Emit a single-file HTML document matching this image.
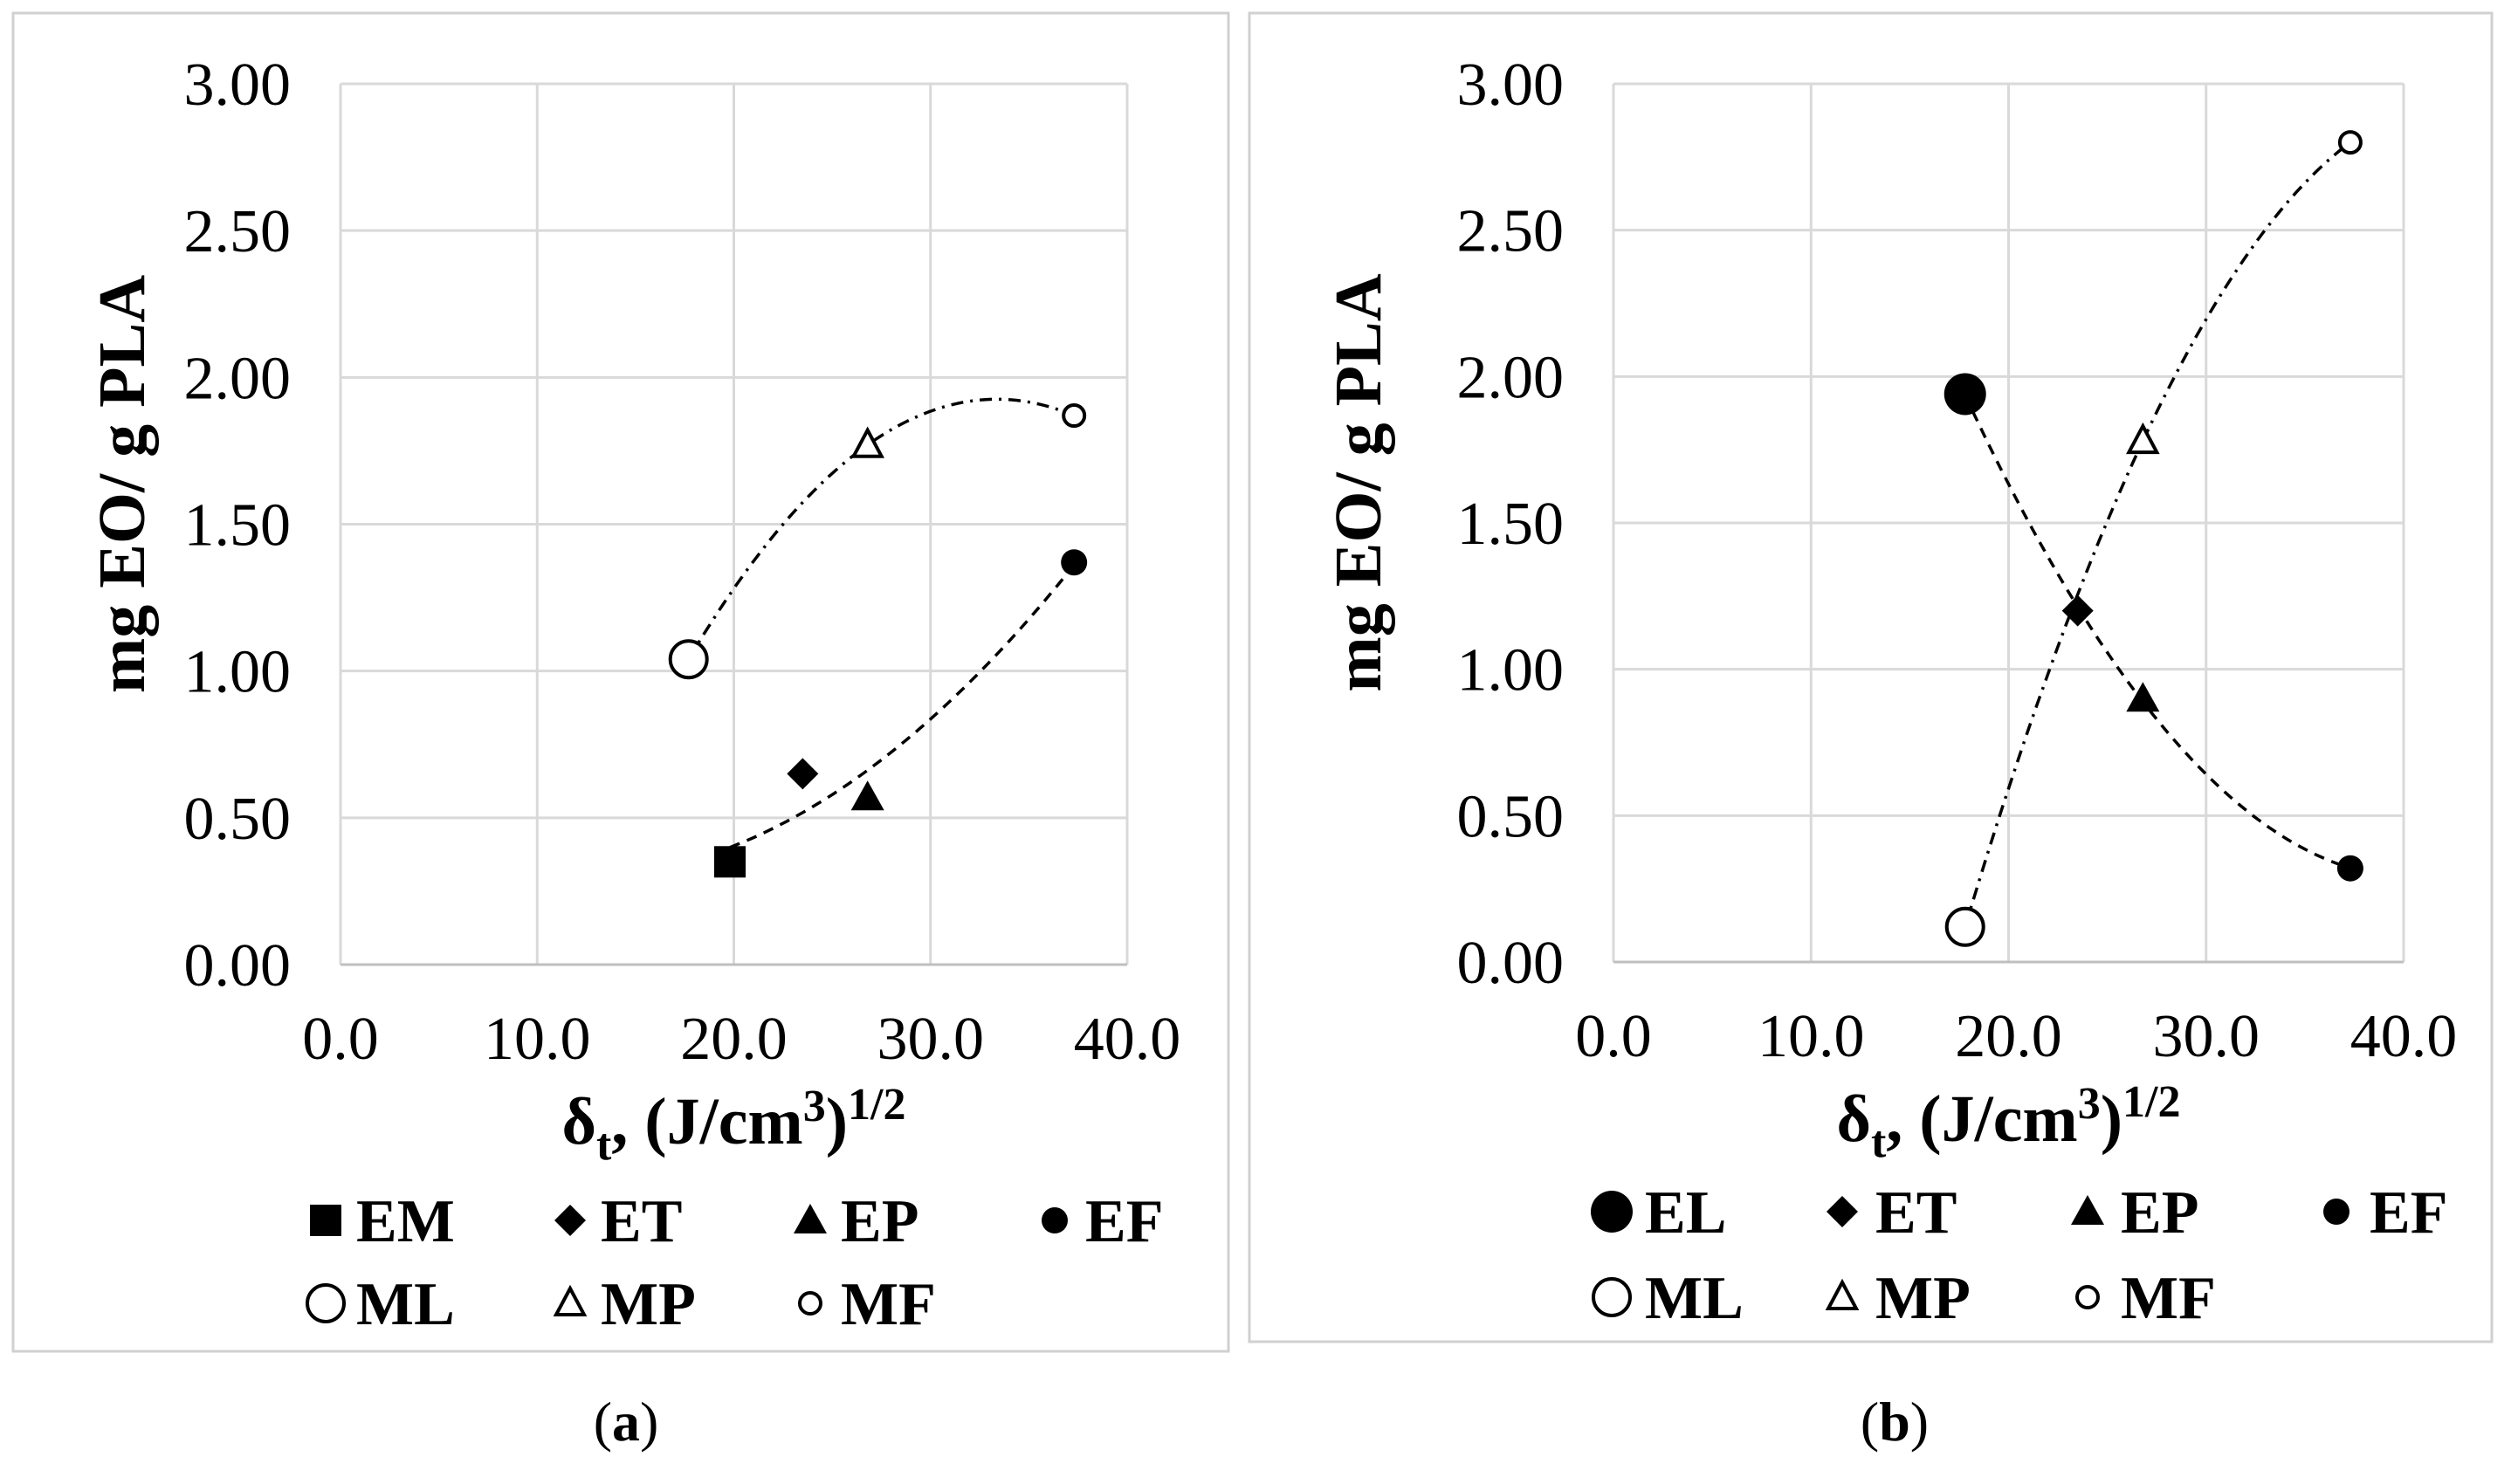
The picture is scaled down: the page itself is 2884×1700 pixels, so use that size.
<!DOCTYPE html>
<html><head><meta charset="utf-8"><style>
html,body{margin:0;padding:0;background:#fff}
svg{display:block}
text{font-family:"Liberation Serif",serif;fill:#000}
</style></head><body>
<svg id="s" width="2884" height="1700" viewBox="0 0 2884 1700" xmlns="http://www.w3.org/2000/svg"></svg>
<script>
const xTicks=[0,10,20,30,40];
const yTicks=[0,0.5,1,1.5,2,2.5,3];
// Panel (a)
const aE_names=["EM","ET","EP","EF"];
const aE_x=[19.8,23.5,26.8,37.3];
const aE_y=[0.35,0.65,0.57,1.37];
const aM_names=["ML","MP","MF"];
const aM_x=[17.7,26.8,37.3];
const aM_y=[1.04,1.77,1.87];
// Panel (b)
const bE_names=["EL","ET","EP","EF"];
const bE_x=[17.8,23.5,26.8,37.3];
const bE_y=[1.94,1.20,0.90,0.32];
const bM_names=["ML","MP","MF"];
const bM_x=[17.8,26.8,37.3];
const bM_y=[0.12,1.78,2.80];

const NS="http://www.w3.org/2000/svg";
const svg=document.getElementById('s');
function mk(tag,attrs,parent){const e=document.createElementNS(NS,tag);for(const k in attrs)e.setAttribute(k,attrs[k]);(parent||svg).appendChild(e);return e;}

function quadFit(xs,ys){
  let S=[[0,0,0],[0,0,0],[0,0,0]],b=[0,0,0];
  for(let i=0;i<xs.length;i++){const p=[1,xs[i],xs[i]*xs[i]];for(let r=0;r<3;r++){b[r]+=p[r]*ys[i];for(let c=0;c<3;c++)S[r][c]+=p[r]*p[c];}}
  for(let i=0;i<3;i++){let m=i;for(let r=i+1;r<3;r++)if(Math.abs(S[r][i])>Math.abs(S[m][i]))m=r;[S[i],S[m]]=[S[m],S[i]];[b[i],b[m]]=[b[m],b[i]];
    for(let r=0;r<3;r++){if(r===i)continue;const f=S[r][i]/S[i][i];for(let c=0;c<3;c++)S[r][c]-=f*S[i][c];b[r]-=f*b[i];}}
  return [b[0]/S[0][0],b[1]/S[1][1],b[2]/S[2][2]];
}

function marker(g,kind,cx,cy,name){
  let e;
  if(kind==="square")e=mk('rect',{x:cx-18,y:cy-18,width:36,height:36,fill:'#000'},g);
  else if(kind==="diamond")e=mk('polygon',{points:`${cx},${cy-18} ${cx+18},${cy} ${cx},${cy+18} ${cx-18},${cy}`,fill:'#000'},g);
  else if(kind==="tri")e=mk('polygon',{points:`${cx},${cy-19} ${cx+19},${cy+15} ${cx-19},${cy+15}`,fill:'#000'},g);
  else if(kind==="dot")e=mk('circle',{cx:cx,cy:cy,r:15,fill:'#000'},g);
  else if(kind==="bigdot")e=mk('circle',{cx:cx,cy:cy,r:24,fill:'#000'},g);
  else if(kind==="ocircle")e=mk('circle',{cx:cx,cy:cy,r:21,fill:'#fff',stroke:'#000','stroke-width':4},g);
  else if(kind==="otri")e=mk('polygon',{points:`${cx},${cy-17} ${cx+16},${cy+13} ${cx-16},${cy+13}`,fill:'#fff',stroke:'#000','stroke-width':4},g);
  else if(kind==="osmall")e=mk('circle',{cx:cx,cy:cy,r:12,fill:'#fff',stroke:'#000','stroke-width':4},g);
  
  
  return e;
}

function panel(P){
  const g=mk('g',{});
  
  
  mk('rect',{x:P.bx,y:P.by,width:P.bw,height:P.bh,fill:'none',stroke:'#d0d0d0','stroke-width':3},g);
  const X=v=>P.x0+(P.x1-P.x0)*v/40, Y=v=>P.y0+(P.y1-P.y0)*v/3;
  xTicks.forEach(t=>{const l=mk('line',{x1:X(t),x2:X(t),y1:Y(0),y2:Y(3),stroke:'#d9d9d9','stroke-width':3},g);
    
    const tx=mk('text',{x:X(t),y:Y(0)+108,'font-size':70,'text-anchor':'middle'},g);tx.textContent=t.toFixed(1);
    });
  yTicks.forEach(t=>{const l=mk('line',{x1:X(0),x2:X(40),y1:Y(t),y2:Y(t),stroke:t===0?'#bfbfbf':'#d9d9d9','stroke-width':3},g);
    
    const tx=mk('text',{x:X(0)-57,y:Y(t)+24,'font-size':70,'text-anchor':'end'},g);tx.textContent=t.toFixed(2);
    });
  const yt=mk('text',{x:0,y:0,'font-size':76,'font-weight':'bold','text-anchor':'middle',transform:`translate(${P.bx+150},${(Y(0)+Y(3))/2-46}) rotate(-90)`},g);
  yt.textContent='mg EO/ g PLA';
  const xt=mk('text',{x:(X(0)+X(40))/2,y:Y(0)+205,'font-size':76,'font-weight':'bold','text-anchor':'middle'},g);
  xt.innerHTML='δ<tspan font-size="52" dy="18">t</tspan><tspan dy="-18">, (J/cm</tspan><tspan font-size="52" dy="-26">3</tspan><tspan dy="26">)</tspan><tspan font-size="52" dy="-28">1/2</tspan>';
  
  [[P.ex,P.ey,'12,9','e-trendline'],[P.mx,P.my,'14,8,3,8','m-trendline']].forEach(([xs,ys,da,nm])=>{
    const c=quadFit(xs,ys);const lo=Math.min(...xs),hi=Math.max(...xs);let d='';
    for(let i=0;i<=80;i++){const v=lo+(hi-lo)*i/80;const yv=c[0]+c[1]*v+c[2]*v*v;d+=(i?'L':'M')+X(v).toFixed(1)+','+Y(yv).toFixed(1);}
    const p=mk('path',{d:d,fill:'none',stroke:'#000','stroke-width':3.5,'stroke-dasharray':da},g);
    });
  P.en.forEach((n,i)=>marker(g,P.ek[i],X(P.ex[i]),Y(P.ey[i]),'point-'+n));
  P.mn.forEach((n,i)=>marker(g,P.mk[i],X(P.mx[i]),Y(P.my[i]),'point-'+n));
  const items=P.en.map((n,i)=>[n,P.ek[i]]).concat(P.mn.map((n,i)=>[n,P.mk[i]]));
  items.forEach(([n,k],i)=>{const col=i%4,row=Math.floor(i/4);const mx=P.lx[col],my=P.ly[row];
    const lg=mk('g',{},g);
    marker(lg,k,mx,my,'legend-marker-'+n);
    const t=mk('text',{x:mx+P.lgap,y:my+24,'font-size':70,'font-weight':'bold'},lg);t.textContent=n;
    });
  const cap=mk('text',{x:P.capx,y:1650,'font-size':64,'text-anchor':'middle'},g);
  cap.innerHTML='(<tspan font-weight="bold">'+P.cap+'</tspan>)';
  
}

panel({id:'panel-a',bx:15,by:15,bw:1392,bh:1533,x0:390,x1:1291,y0:1105,y1:96,
  ex:aE_x,ey:aE_y,en:aE_names,ek:['square','diamond','tri','dot'],
  mx:aM_x,my:aM_y,mn:aM_names,mk:['ocircle','otri','osmall'],
  lx:[373,653,928,1208],ly:[1398,1493],lgap:35,capx:717,cap:'a'});
panel({id:'panel-b',bx:1431,by:15,bw:1423,bh:1522,x0:1848,x1:2753,y0:1102,y1:96,
  ex:bE_x,ey:bE_y,en:bE_names,ek:['bigdot','diamond','tri','dot'],
  mx:bM_x,my:bM_y,mn:bM_names,mk:['ocircle','otri','osmall'],
  lx:[1846,2110,2391,2676],ly:[1388,1486],lgap:38,capx:2170,cap:'b'});
</script>
</body></html>
